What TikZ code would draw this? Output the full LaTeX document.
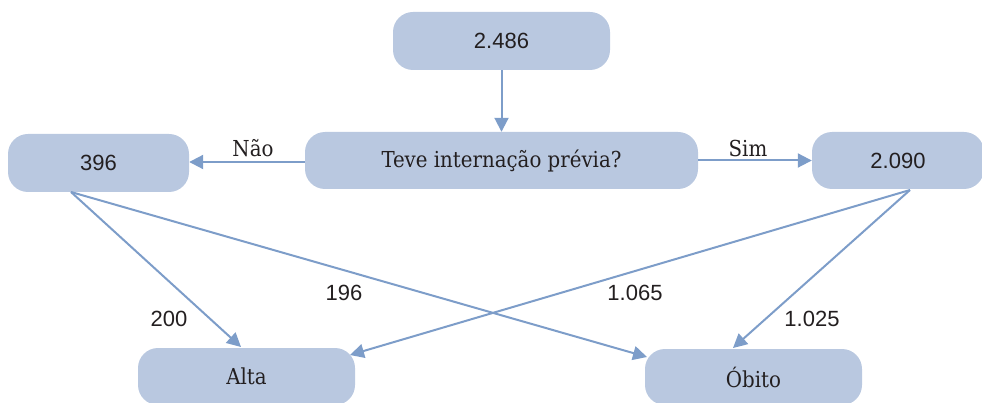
\documentclass[tikz,border=0pt]{standalone}
\usepackage{fontspec}
\setmainfont{DejaVu Serif Condensed}
\newfontfamily\numfont{Liberation Sans}
\usetikzlibrary{arrows.meta}
\definecolor{boxfill}{HTML}{B9C8E0}
\definecolor{arrowc}{HTML}{7D9DC9}
\definecolor{txt}{HTML}{231F20}
\tikzset{
  box/.style={draw=none, fill=boxfill, rounded corners=20pt, inner sep=0pt, text=txt, font=\fontsize{22}{26}\selectfont},
  numbox/.style={box, font=\numfont\fontsize{22}{26}\selectfont},
  conn/.style={draw=arrowc, line width=2pt, -{Triangle[length=14pt,width=14pt]}},
  lbl/.style={text=txt, inner sep=0pt, font=\fontsize{22}{26}\selectfont},
  numlbl/.style={text=txt, inner sep=0pt, font=\numfont\fontsize{22}{26}\selectfont}
}
\begin{document}
\begin{tikzpicture}[x=1pt,y=-1pt]
\useasboundingbox (0,0) rectangle (982,403);
\node[numbox, minimum width=217pt, minimum height=58pt] (top) at (501.5,41) {2.486};
\node[box, minimum width=393pt, minimum height=57pt] (mid) at (501.5,160.5) {Teve internação prévia?};
\node[numbox, minimum width=181pt, minimum height=58pt] (n396) at (98.5,163) {396};
\node[numbox, minimum width=172pt, minimum height=57pt] (n2090) at (898,160.5) {2.090};
\node[box, minimum width=217pt, minimum height=57pt] (alta) at (246.5,376.5) {Alta};
\node[box, minimum width=217pt, minimum height=56pt] (obito) at (753.5,377) {Óbito};

\coordinate (s396) at (71,192);
\coordinate (s2090) at (910,190);
\coordinate (ealtaL) at (241,347);
\coordinate (ealtaR) at (350,355);
\coordinate (eobitoL) at (647,357);
\coordinate (eobitoR) at (733,348);

\draw[conn] (top.south) -- (mid.north);
\draw[conn] ([yshift=-1.5pt]mid.west) -- ([yshift=-1.5pt]mid.west -| n396.east);
\draw[conn] (mid.east) -- (n2090.west);
\draw[conn] (s396) -- (ealtaL);
\draw[conn] (s396) -- (eobitoL);
\draw[conn] (s2090) -- (ealtaR);
\draw[conn] (s2090) -- (eobitoR);

\node[lbl] (lnao) at (253,148) {Não};
\node[lbl] (lsim) at (748,148) {Sim};
\node[numlbl] (l200) at (169,319) {200};
\node[numlbl] (l196) at (344,293) {196};
\node[numlbl] (l1065) at (635,293) {1.065};
\node[numlbl] (l1025) at (812,319) {1.025};
\end{tikzpicture}
\end{document}
